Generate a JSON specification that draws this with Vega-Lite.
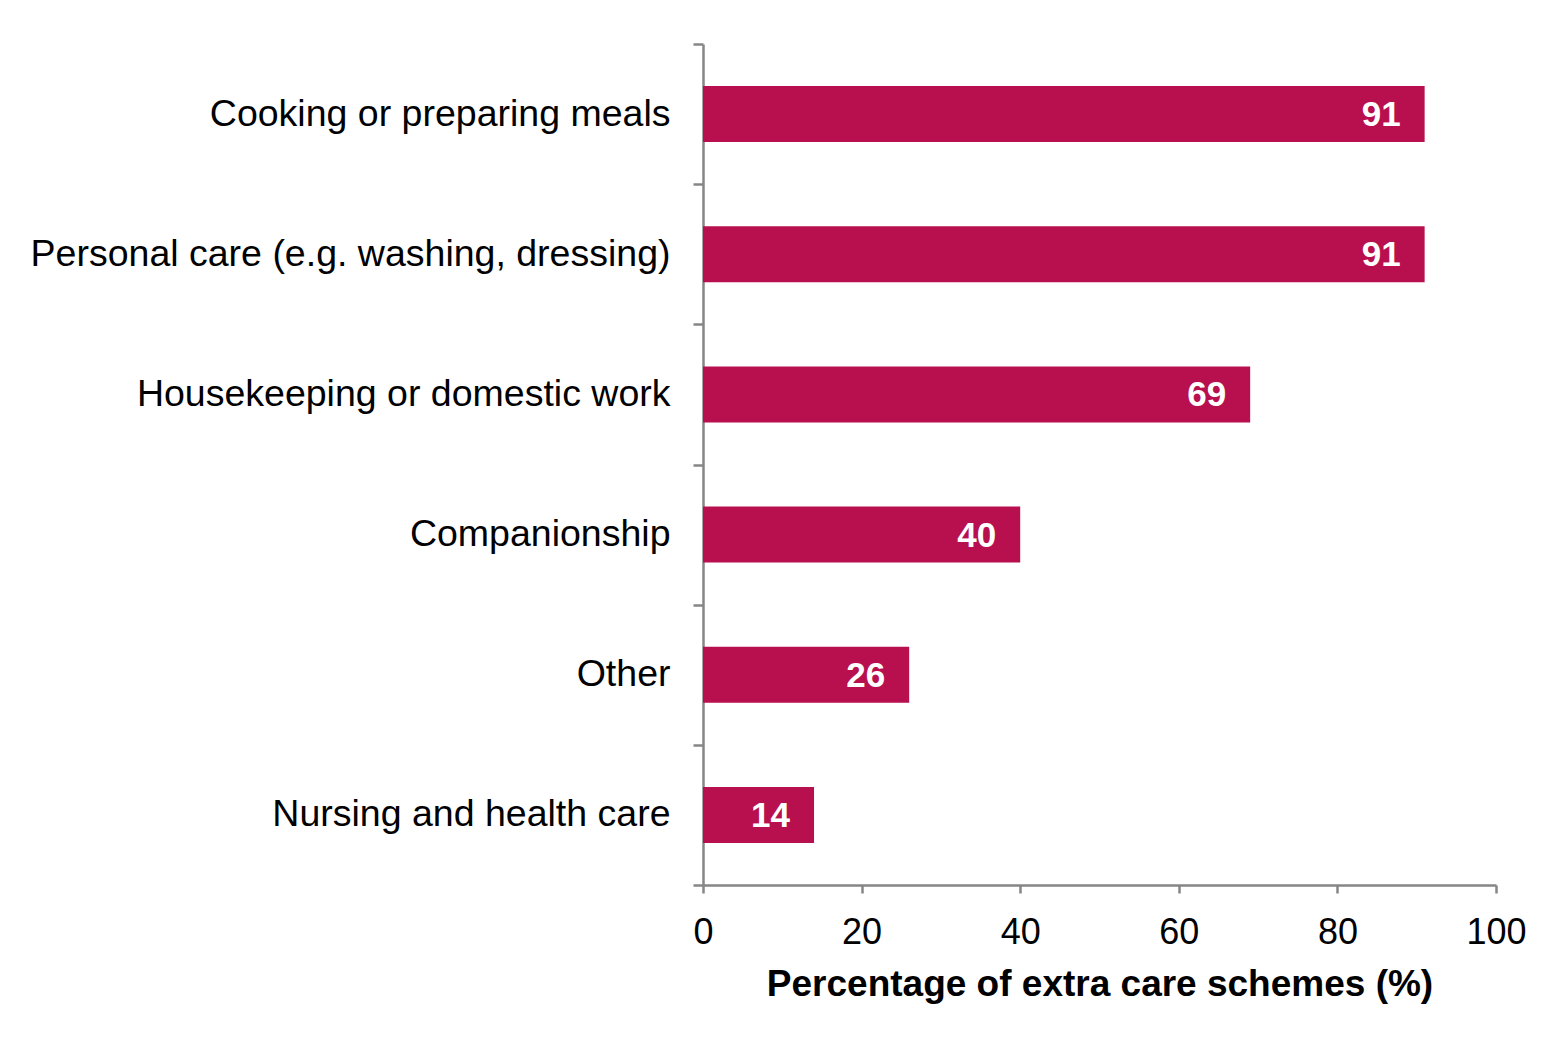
{
  "$schema": "https://vega.github.io/schema/vega-lite/v6.json",
  "autosize": {"type": "none"},
  "width": 793,
  "height": 841,
  "padding": {"left": 703, "top": 44, "right": 52, "bottom": 154},
  "background": "white",
  "config": {
    "view": {"stroke": null},
    "font": "Liberation Sans"
  },
  "data": {
    "values": [
      {"category": "Cooking or preparing meals", "value": 91},
      {"category": "Personal care (e.g. washing, dressing)", "value": 91},
      {"category": "Housekeeping or domestic work", "value": 69},
      {"category": "Companionship", "value": 40},
      {"category": "Other", "value": 26},
      {"category": "Nursing and health care", "value": 14}
    ]
  },
  "encoding": {
    "y": {
      "field": "category",
      "type": "nominal",
      "sort": null,
      "scale": {"paddingInner": 0, "paddingOuter": 0},
      "axis": {
        "title": null,
        "tickBand": "extent",
        "domainColor": "#868686",
        "domainWidth": 2.5,
        "tickColor": "#868686",
        "tickWidth": 2.5,
        "tickSize": 10,
        "labelPadding": 23,
        "labelFont": "Liberation Sans",
        "labelFontSize": 37.5,
        "labelColor": "black",
        "labelLimit": 0
      }
    },
    "x": {
      "field": "value",
      "type": "quantitative",
      "scale": {"domain": [0, 100], "nice": false},
      "axis": {
        "title": "Percentage of extra care schemes (%)",
        "values": [0, 20, 40, 60, 80, 100],
        "grid": false,
        "domainColor": "#868686",
        "domainWidth": 2.5,
        "tickColor": "#868686",
        "tickWidth": 2.5,
        "tickSize": 8,
        "labelPadding": 22,
        "labelFont": "Liberation Sans",
        "labelFontSize": 36,
        "labelColor": "black",
        "labelFlush": false,
        "titleFont": "Liberation Sans",
        "titleFontSize": 37,
        "titleFontWeight": "bold",
        "titleColor": "black",
        "titlePadding": 16
      }
    }
  },
  "layer": [
    {"mark": {"type": "bar", "color": "#B80F4E", "height": {"band": 0.4}}},
    {
      "mark": {
        "type": "text",
        "align": "right",
        "baseline": "middle",
        "dx": -24,
        "dy": 1,
        "color": "white",
        "fontWeight": "bold",
        "font": "Liberation Sans",
        "fontSize": 35
      },
      "encoding": {"text": {"field": "value", "type": "quantitative"}}
    }
  ]
}
